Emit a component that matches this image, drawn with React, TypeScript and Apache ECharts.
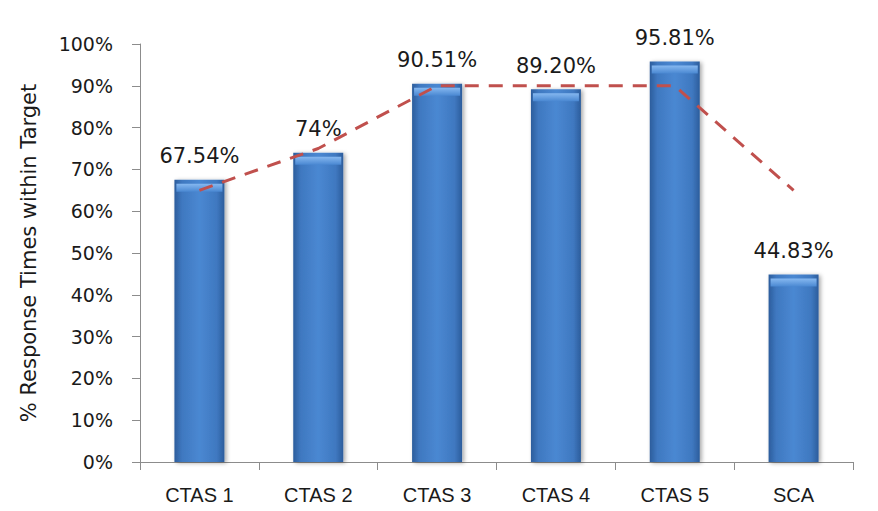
import React, { useEffect, useRef } from "react";
import * as echarts from "echarts";

const categories = ["CTAS 1", "CTAS 2", "CTAS 3", "CTAS 4", "CTAS 5", "SCA"];
const actualValues = [67.54, 74, 90.51, 89.2, 95.81, 44.83];
const actualLabels = ["67.54%", "74%", "90.51%", "89.20%", "95.81%", "44.83%"];
const targetValues = [65, 75, 90, 90, 90, 65];
const yTicks = [0, 10, 20, 30, 40, 50, 60, 70, 80, 90, 100];

export default function App() {
  const ref = useRef<HTMLDivElement>(null);
  useEffect(() => {
    if (!ref.current) return;
    const chart = echarts.init(ref.current, null, { renderer: "svg" });
    const barGrad = new echarts.graphic.LinearGradient(0, 0, 1, 0, [
      { offset: 0, color: "#2c5d9c" },
      { offset: 0.15, color: "#3f78c0" },
      { offset: 0.5, color: "#4a88d2" },
      { offset: 0.85, color: "#3f78c0" },
      { offset: 1, color: "#2c5d9c" },
    ]);
    const capGrad = new echarts.graphic.LinearGradient(0, 0, 0, 1, [
      { offset: 0, color: "#86b8f0" },
      { offset: 1, color: "#4a88d2" },
    ]);
    chart.setOption({
      animation: false,
      grid: { left: 140, right: 25, top: 44, bottom: 49, containLabel: false },
      xAxis: {
        type: "category",
        data: categories,
        axisLine: { lineStyle: { color: "#8c8c8c", width: 1 } },
        axisTick: { show: true, length: 8, alignWithLabel: false, lineStyle: { color: "#8c8c8c" } },
        axisLabel: {
          color: "#1a1a1a",
          fontFamily: "Liberation Sans, sans-serif",
          fontSize: 20,
          margin: 23,
        },
      },
      yAxis: {
        type: "value",
        min: 0,
        max: 100,
        interval: 10,
        name: "% Response Times within Target",
        nameLocation: "middle",
        nameGap: 101,
        nameTextStyle: { color: "#1a1a1a", fontSize: 21, fontFamily: "DejaVu Sans, sans-serif" },
        axisLine: { show: true, lineStyle: { color: "#8c8c8c" } },
        axisTick: { show: true, length: 8, lineStyle: { color: "#8c8c8c" } },
        splitLine: { show: false },
        axisLabel: {
          color: "#1a1a1a",
          fontSize: 19,
          fontFamily: "DejaVu Sans, sans-serif",
          margin: 27,
          formatter: (v: number) => (yTicks.includes(v) ? v + "%" : ""),
        },
      },
      series: [
        {
          type: "bar",
          data: actualValues,
          barWidth: 50,
          itemStyle: {
            color: barGrad,
            shadowColor: "rgba(0,0,0,0.35)",
            shadowBlur: 4,
            shadowOffsetX: 2,
            shadowOffsetY: 1,
          },
          label: {
            show: true,
            position: "top",
            distance: 13,
            color: "#1a1a1a",
            fontSize: 21,
            fontFamily: "DejaVu Sans, sans-serif",
            formatter: (p: any) => actualLabels[p.dataIndex],
          },
          z: 2,
        },
        {
          type: "pictorialBar",
          data: actualValues,
          symbol: "rect",
          symbolSize: [46, 8],
          symbolPosition: "end",
          symbolOffset: [0, "50%"],
          itemStyle: { color: capGrad },
          z: 3,
          silent: true,
        },
        {
          type: "line",
          data: targetValues,
          symbol: "none",
          lineStyle: { color: "#c0504d", width: 3, type: [14, 10] },
          z: 5,
        },
      ],
    });
    return () => chart.dispose();
  }, []);
  return (
    <div
      ref={ref}
      style={{ position: "absolute", left: 0, top: 0, width: 878, height: 511 }}
    />
  );
}
